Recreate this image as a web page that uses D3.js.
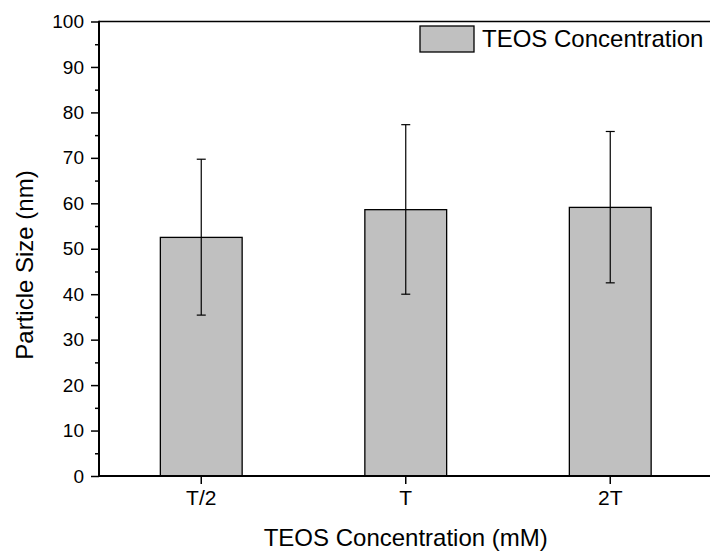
<!DOCTYPE html>
<html>
<head>
<meta charset="utf-8">
<script src="https://d3js.org/d3.v7.min.js"></script>
<style>
body { margin: 0; background: #fff; }
text { font-family: Arial, "Liberation Sans", sans-serif; fill: #000; }
</style>
</head>
<body>
<div id="chart"></div>
<script>
// data
var categories = ["T/2", "T", "2T"];
var sizes = [52.5, 58.6, 59.1];
var errLow = [35.4, 40.0, 42.5];
var errHigh = [69.7, 77.3, 75.8];
var yTicks = [0, 10, 20, 30, 40, 50, 60, 70, 80, 90, 100];
var yMinor = [5, 15, 25, 35, 45, 55, 65, 75, 85, 95];

var width = 710, height = 552;
// plot edges (window.top is reserved, so use own names)
var plotLeft = 99, plotTop = 21.5, plotBottom = 476, plotRight = 712.5;

var svg = d3.select("#chart")
  .append("svg")
  .attr("width", width)
  .attr("height", height);

var x = d3.scaleBand()
  .domain(categories)
  .range([plotLeft, plotRight])
  .paddingInner(0.6)
  .paddingOuter(0.3);

var y = d3.scaleLinear()
  .domain([0, 100])
  .range([plotBottom, plotTop]);

// bars
svg.selectAll("rect.bar")
  .data(categories)
  .enter()
  .append("rect")
  .attr("class", "bar")
  .attr("x", function(d) { return x(d); })
  .attr("width", x.bandwidth())
  .attr("y", function(d, i) { return y(sizes[i]); })
  .attr("height", function(d, i) { return y(0) - y(sizes[i]); })
  .style("fill", "#c0c0c0")
  .style("stroke", "#000")
  .style("stroke-width", 1.3);

// error bars
var cx = function(d) { return x(d) + x.bandwidth() / 2; };
var eb = svg.selectAll("g.err")
  .data(categories)
  .enter()
  .append("g")
  .attr("class", "err")
  .style("stroke", "#000")
  .style("stroke-width", 1.2);
eb.append("line")
  .attr("x1", cx).attr("x2", cx)
  .attr("y1", function(d, i) { return y(errLow[i]); })
  .attr("y2", function(d, i) { return y(errHigh[i]); });
eb.append("line")
  .attr("x1", function(d) { return cx(d) - 4.5; })
  .attr("x2", function(d) { return cx(d) + 4.5; })
  .attr("y1", function(d, i) { return y(errHigh[i]); })
  .attr("y2", function(d, i) { return y(errHigh[i]); });
eb.append("line")
  .attr("x1", function(d) { return cx(d) - 4.5; })
  .attr("x2", function(d) { return cx(d) + 4.5; })
  .attr("y1", function(d, i) { return y(errLow[i]); })
  .attr("y2", function(d, i) { return y(errLow[i]); });

// y axis
var yAxis = svg.append("g")
  .attr("transform", "translate(" + plotLeft + ",0)")
  .call(d3.axisLeft(y).tickValues(yTicks).tickSize(8).tickPadding(7).tickFormat(d3.format("d")));
yAxis.select(".domain").remove();
yAxis.selectAll(".tick line").style("stroke", "#000").style("stroke-width", 1.5);
yAxis.selectAll("text").style("font-size", "19px").style("font-family", "Arial, 'Liberation Sans', sans-serif");

svg.append("g")
  .attr("transform", "translate(" + plotLeft + ",0)")
  .call(d3.axisLeft(y).tickValues(yMinor).tickSize(4).tickFormat(""))
  .call(function(g) { g.select(".domain").remove(); })
  .selectAll(".tick line").style("stroke", "#000").style("stroke-width", 1.5);

// x axis
var xAxis = svg.append("g")
  .attr("transform", "translate(0," + plotBottom + ")")
  .call(d3.axisBottom(x).tickSize(8).tickPadding(6));
xAxis.select(".domain").remove();
xAxis.selectAll(".tick line").style("stroke", "#000").style("stroke-width", 1.5);
xAxis.selectAll("text").style("font-size", "21px").style("font-family", "Arial, 'Liberation Sans', sans-serif");

// frame lines
svg.append("line")
  .attr("x1", plotLeft).attr("x2", width)
  .attr("y1", plotTop).attr("y2", plotTop)
  .style("stroke", "#000").style("stroke-width", 1.5);
svg.append("line")
  .attr("x1", plotLeft).attr("x2", width)
  .attr("y1", plotBottom).attr("y2", plotBottom)
  .style("stroke", "#000").style("stroke-width", 2);
svg.append("line")
  .attr("x1", plotLeft).attr("x2", plotLeft)
  .attr("y1", plotTop - 0.75).attr("y2", plotBottom + 1)
  .style("stroke", "#000").style("stroke-width", 2);

// axis titles
svg.append("text")
  .attr("x", (plotLeft + plotRight) / 2)
  .attr("y", 546)
  .style("text-anchor", "middle")
  .style("font-size", "24px")
  .text("TEOS Concentration (mM)");

svg.append("text")
  .attr("transform", "translate(33,265) rotate(-90)")
  .style("text-anchor", "middle")
  .style("font-size", "24px")
  .text("Particle Size (nm)");

// legend
svg.append("rect")
  .attr("x", 420).attr("y", 26)
  .attr("width", 54).attr("height", 26)
  .style("fill", "#c0c0c0")
  .style("stroke", "#000")
  .style("stroke-width", 1.3);
svg.append("text")
  .attr("x", 482)
  .attr("y", 47)
  .style("font-size", "24px")
  .text("TEOS Concentration");
</script>
</body>
</html>
